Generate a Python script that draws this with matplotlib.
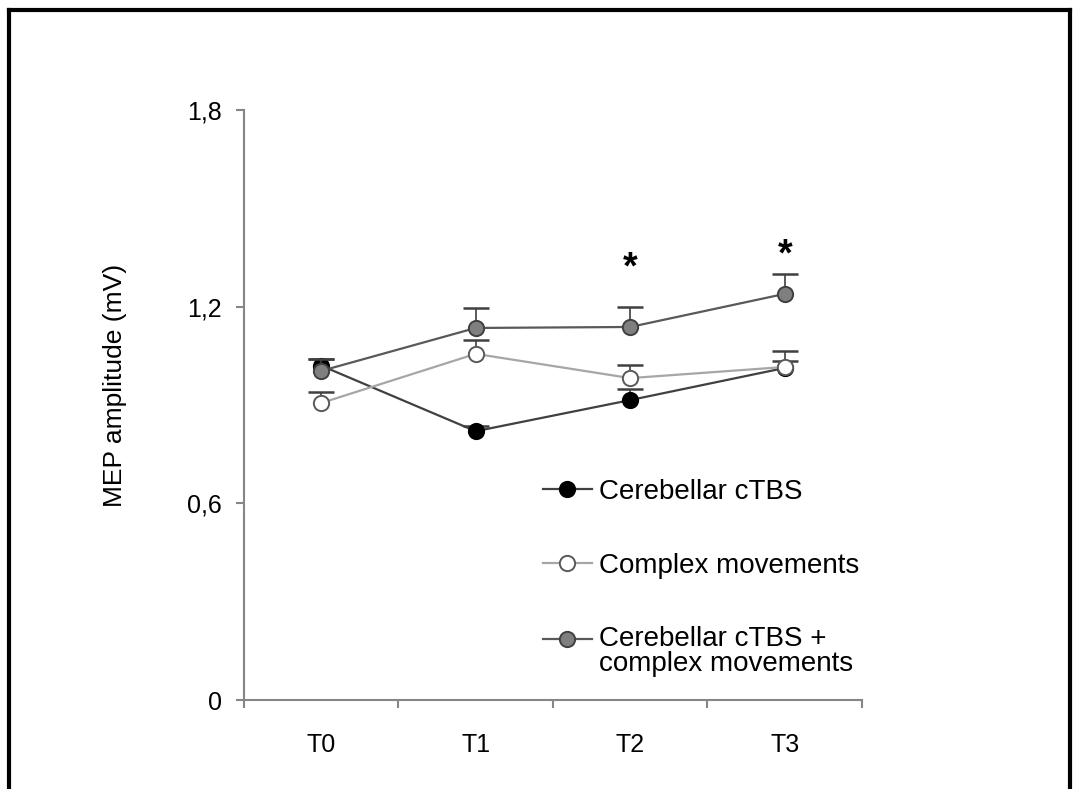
import numpy as np
import matplotlib.pyplot as plt
from matplotlib.lines import Line2D
from matplotlib.legend_handler import HandlerLine2D

plt.rcParams['font.family'] = ['Liberation Sans', 'DejaVu Sans']

times = ['T0', 'T1', 'T2', 'T3']
cbl = [1.02, 0.82, 0.915, 1.013]
cbl_err = [0.02, 0.015, 0.034, 0.02]
cmv = [0.906, 1.056, 0.982, 1.016]
cmv_err = [0.034, 0.042, 0.04, 0.049]
both = [1.004, 1.135, 1.138, 1.239]
both_err = [0.035, 0.06, 0.061, 0.061]
star_pos = [2, 3]
star_y = [1.315, 1.355]


class HandlerTop(HandlerLine2D):
    # put the legend handle level with the first line of a two-line label
    def __init__(self, shift=0, **kw):
        super().__init__(**kw)
        self.shift = shift

    def create_artists(self, legend, orig_handle, xdescent, ydescent,
                       width, height, fontsize, trans):
        return super().create_artists(legend, orig_handle, xdescent,
                                      ydescent - 2 * self.shift, width, height,
                                      fontsize, trans)


fig = plt.figure(figsize=(10.78, 7.89), dpi=100)
ax = fig.add_axes([0.2263, 0.1128, 0.5733, 0.7478])
x = np.arange(len(times))

series = [
    (cbl, cbl_err, 'Cerebellar cTBS', '#404040', 'black', 'black'),
    (cmv, cmv_err, 'Complex movements', '#a6a6a6', 'white', '#595959'),
    (both, both_err, 'Cerebellar cTBS +\ncomplex movements', '#595959', '#7f7f7f', '#404040'),
]
handles = []
for vals, err, lab, lc, fc, ec in series:
    eb = ax.errorbar(x, vals, yerr=[np.zeros(len(err)), err], fmt='none',
                     ecolor='#404040', elinewidth=1.2, capsize=9.5, capthick=1.8)
    eb.lines[1][0].set_visible(False)   # only the upper cap
    ln, = ax.plot(x, vals, color=lc, lw=1.6, marker='o', ms=11,
                  mfc=fc, mec=ec, mew=1.4, label=lab)
    handles.append(ln)

for p, yy in zip(star_pos, star_y):
    ax.text(p, yy, '*', ha='center', va='center', fontsize=27, fontweight='bold')

ax.set_xlim(-0.5, 3.5)
ax.set_ylim(0, 1.8)
ax.set_yticks([0, 0.6, 1.2, 1.8])
ax.set_yticklabels(['0', '0,6', '1,2', '1,8'], fontsize=18)
ax.set_xticks(np.arange(-0.5, 4, 1))
ax.set_xticklabels([])
ax.set_xticks(x, minor=True)
ax.set_xticklabels(times, minor=True, fontsize=18)
ax.tick_params(axis='x', which='minor', length=0, pad=24)
ax.tick_params(axis='both', which='major', length=6, width=1.5, color='#868686', direction='out')
ax.tick_params(axis='y', pad=10)
for s in ['top', 'right']:
    ax.spines[s].set_visible(False)
for s in ['left', 'bottom']:
    ax.spines[s].set_color('#868686')
    ax.spines[s].set_linewidth(1.5)

ax.set_ylabel('MEP amplitude (mV)', fontsize=19)
ax.yaxis.set_label_coords(-0.19, 0.533)

leg = ax.legend(handles=handles, loc='upper left', bbox_to_anchor=(0.484, 0.375),
                frameon=False, fontsize=20, handlelength=1.75, handletextpad=0.25,
                labelspacing=1.72, borderpad=0, borderaxespad=0,
                handler_map={handles[2]: HandlerTop(shift=9.5)})
for t in leg.get_texts():
    t.set_linespacing(0.93)

# frame around the whole figure
fig.add_artist(Line2D([0.0088, 0.0088], [0, 0.9873], color='black', lw=3))
fig.add_artist(Line2D([0.0088, 0.9926], [0.9873, 0.9873], color='black', lw=3))
fig.add_artist(Line2D([0.9926, 0.9926], [0, 0.9873], color='black', lw=3))

fig.savefig('out.png', dpi=100)
